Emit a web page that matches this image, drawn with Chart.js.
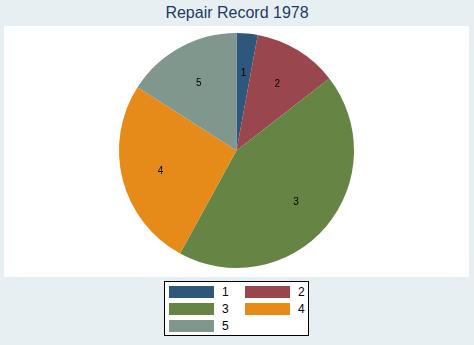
<!DOCTYPE html>
<html>
<head>
<meta charset="utf-8">
<script src="https://cdn.jsdelivr.net/npm/chart.js@4/dist/chart.umd.min.js"></script>
<style>
  html, body { margin: 0; padding: 0; }
  body { width: 474px; height: 345px; background: #e8eff2; position: relative; overflow: hidden;
         font-family: "Liberation Sans", Arial, sans-serif; }
  #title { position: absolute; left: 0; top: 3px; width: 474px; text-align: center;
           font-size: 16px; color: #1e3a64; line-height: 20px; }
  #plot { position: absolute; left: 4px; top: 26px; width: 465px; height: 251px; background: #fff; }
  #legend { position: absolute; left: 164px; top: 281px; width: 143px; height: 53px;
            border: 1px solid #000; background: #fff; }
  .item { position: absolute; height: 12px; }
  .sw { position: absolute; left: 0; top: 0; width: 45px; height: 12px; }
  .lb { position: absolute; left: 53px; top: -2px; font-size: 12px; line-height: 16px; color: #000; }
</style>
</head>
<body>
<div id="title">Repair Record 1978</div>
<div id="plot"><canvas id="pie"></canvas></div>
<div id="legend"></div>
<script>
'use strict';
const categories = ['1', '2', '3', '4', '5'];
const counts = [2, 8, 30, 18, 11];
const colors = ['#2f567b', '#9a464e', '#668443', '#e68a1a', '#7f978c'];

// legend, built from the same arrays
const legend = document.getElementById('legend');
categories.forEach((c, i) => {
    const el = document.createElement('div');
    el.className = 'item';
    el.style.left = (4 + (i % 2) * 76) + 'px';
    el.style.top = (4 + Math.floor(i / 2) * 17) + 'px';
    el.innerHTML = '<div class="sw" style="background:' + colors[i] + '"></div><div class="lb">' + c + '</div>';
    legend.appendChild(el);
});

const sliceLabels = {
    id: 'sliceLabels',
    afterDatasetsDraw(chart) {
        const ctx = chart.ctx;
        const meta = chart.getDatasetMeta(0);
        ctx.save();
        ctx.font = '10px "Liberation Sans", Arial, sans-serif';
        ctx.fillStyle = '#000';
        ctx.textAlign = 'center';
        ctx.textBaseline = 'middle';
        meta.data.forEach((arc, i) => {
            const p = arc.getProps(['x', 'y', 'startAngle', 'endAngle', 'outerRadius'], true);
            const a = (p.startAngle + p.endAngle) / 2;
            const r = p.outerRadius * 0.667;
            ctx.fillText(categories[i], p.x + Math.cos(a) * r, p.y + Math.sin(a) * r + 1);
        });
        ctx.restore();
    }
};

new Chart(document.getElementById('pie'), {
    type: 'pie',
    data: {
        labels: categories,
        datasets: [{
            data: counts,
            backgroundColor: colors,
            borderWidth: 0
        }]
    },
    options: {
        responsive: true,
        maintainAspectRatio: false,
        animation: false,
        layout: { padding: { top: 7, bottom: 9 } },
        plugins: { legend: { display: false }, tooltip: { enabled: false } }
    },
    plugins: [sliceLabels]
});
</script>
</body>
</html>
